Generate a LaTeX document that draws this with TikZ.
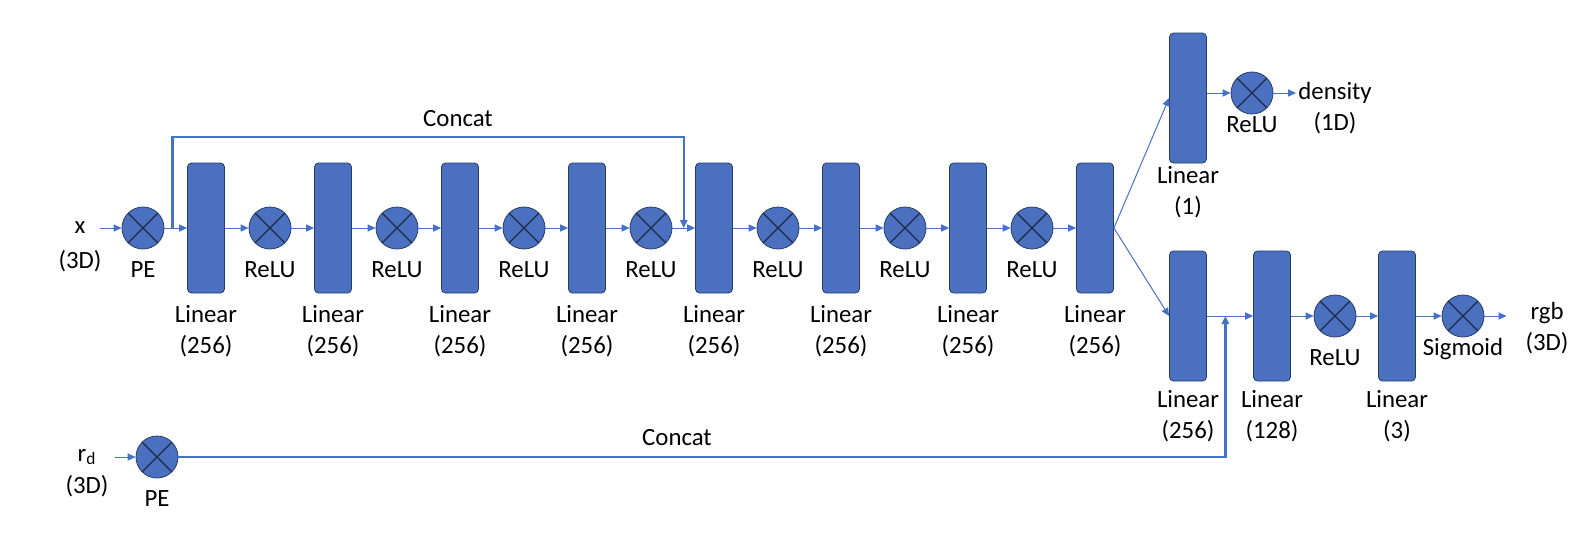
\documentclass[tikz,border=0pt]{standalone}
\usepackage{fontspec}
\setmainfont{Carlito}
\usetikzlibrary{arrows.meta,positioning,calc}
\definecolor{NetFill}{HTML}{4A70BF}
\definecolor{NetEdge}{HTML}{263D66}
\definecolor{NetLine}{HTML}{4672C4}
\definecolor{NetCross}{HTML}{1C2B47}
\tikzset{>={Triangle[length=4pt,width=3.6pt]},every node/.style={font=\fontsize{12.4}{15.5}\selectfont},
 lin/.style={draw=NetEdge,fill=NetFill,rounded corners=2pt,minimum width=18.5pt,
 minimum height=65pt,inner sep=0pt},
 op/.style={circle,draw=NetEdge,fill=NetFill,minimum size=21pt,inner sep=0pt,
 path picture={\draw[NetCross,line width=0.6pt] (path picture bounding box.north west)--(path picture bounding box.south east)
 (path picture bounding box.north east)--(path picture bounding box.south west);}},
 lbl/.style={align=center,label distance=2.5pt},
 flow/.style={draw=NetLine,line width=0.5pt,->},
 cat/.style={draw=NetLine,line width=1.2pt}}
\begin{document}
\begin{tikzpicture}[x=0.5pt,y=-0.5pt]
\useasboundingbox (0,0) rectangle (1590,532);
\node[label={[lbl,label distance=1pt]below:(3D)}] (xin) at (80,228) {x};
\node[op,label={[lbl]below:PE}] (pe1) at (143,228) {};
\foreach \i in {1,...,8}
 \node[lin,label={[lbl]below:{Linear\\(256)}}] (l\i) at ({206+127*(\i-1)},228) {};
\foreach \i in {1,...,7}
 \node[op,label={[lbl]below:ReLU}] (r\i) at ({270+127*(\i-1)},228) {};
\draw[flow,shorten <=4pt] (xin) -- (pe1);
\draw[flow] (pe1) -- (l1);
\foreach \i [evaluate=\i as \j using int(\i+1)] in {1,...,7}{
 \draw[flow] (l\i) -- (r\i);
 \draw[flow] (r\i) -- (l\j);
}
\coordinate (skipA) at ($(pe1.east)!0.35!(l1.west)$);
\coordinate (skipB) at ($(r4.east)!0.5!(l5.west)$);
\draw[cat,->] (skipA) -- ++(0,-91) -| (skipB);
\node at (458,119) {Concat};
% density head
\node[lin,label={[lbl,label distance=-2pt]below:{Linear\\(1)}}] (ld) at (1188,98) {};
\node[op,label={[lbl,label distance=-2.5pt]below:ReLU}] (rd) at (1252,93) {};
\node[align=center,anchor=west,inner sep=1pt] (dens) at (1296,108) {density\\(1D)};
\draw[flow] (l8.east) -- (ld.west);
\draw[flow] (ld.east |- rd) -- (rd);
\draw[flow] (rd) -- (rd -| dens.west);
% colour head
\node[lin,label={[lbl,label distance=1pt]below:{Linear\\(256)}}] (la) at (1188,316) {};
\node[lin,label={[lbl,label distance=1pt]below:{Linear\\(128)}}] (lb) at (1272,316) {};
\node[op,label={[lbl]below:ReLU}] (rb) at (1335,316) {};
\node[lin,label={[lbl,label distance=1pt]below:{Linear\\(3)}}] (lc) at (1397,316) {};
\node[op,label={[lbl,label distance=-3pt]below:Sigmoid}] (sg) at (1463,316) {};
\node[align=center] (rgb) at (1547,328) {rgb\\(3D)};
\draw[flow] (l8.east) -- (la.west);
\draw[flow] (la) -- (lb);
\draw[flow] (lb) -- (rb);
\draw[flow] (rb) -- (lc);
\draw[flow] (lc) -- (sg);
\draw[flow,shorten >=6pt] (sg) -- (sg -| rgb.west);
% view direction
\node[label={[lbl,label distance=-2pt]below:(3D)}] (rdin) at (87,457) {r\textsubscript{d}};
\node[op,label={[lbl]below:PE}] (pe2) at (157,457) {};
\draw[flow,shorten <=6pt] (rdin) -- (pe2);
\coordinate (skipC) at ($(la.east)!0.4!(lb.west)$);
\draw[cat,->] (pe2) -| (skipC);
\node at (677,438) {Concat};
\end{tikzpicture}
\end{document}
